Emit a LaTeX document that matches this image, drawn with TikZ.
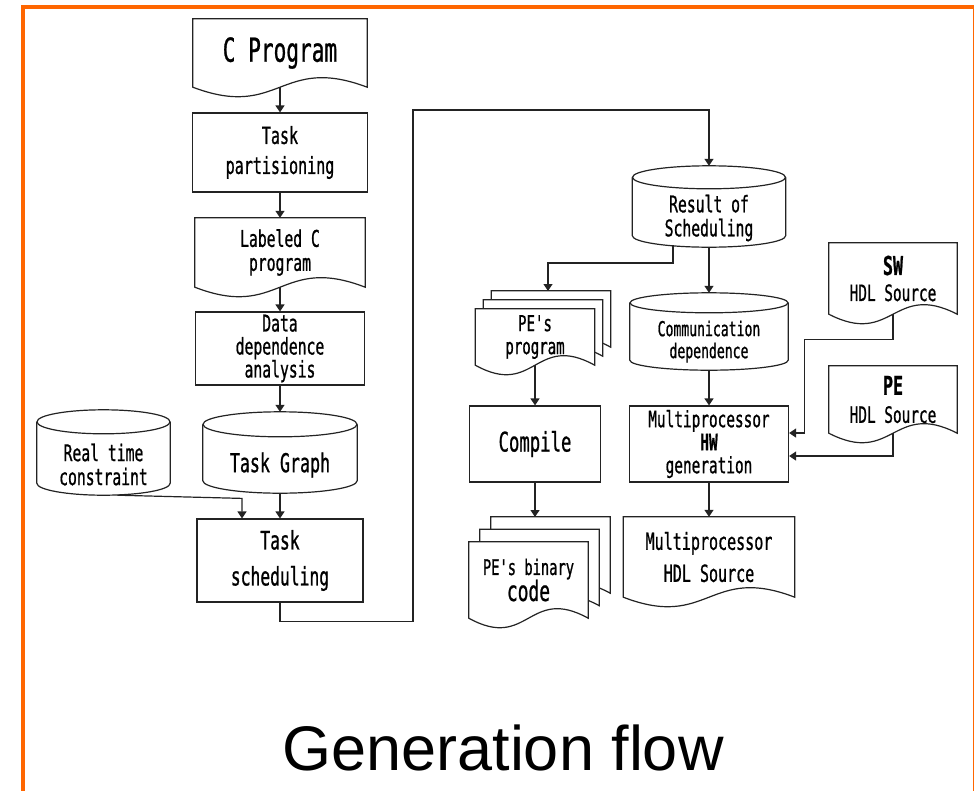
\documentclass[tikz,border=0pt]{standalone}
\usepackage{fontspec}
\newfontfamily\gothic[FakeStretch=0.64,FakeBold=0.8]{DejaVu Sans Mono}
\newfontfamily\arial{Liberation Sans}
\usetikzlibrary{arrows.meta,calc,backgrounds}
\definecolor{frm}{RGB}{255,102,0}
\definecolor{ink}{RGB}{35,35,35}
\tikzset{
  box/.style={draw=ink,line width=1.2pt,fill=white,inner sep=0pt,align=center},
  doc/.style={inner sep=0pt,align=center},
  cyl/.style={inner sep=0pt,align=center},
  ln/.style={draw=ink,line width=1.2pt},
  arr/.style={draw=ink,line width=1.2pt,-{Triangle[length=7pt,width=9pt]}},
  edge/.style={draw=frm,line width=4pt}
}
\newcommand{\gfont}[2]{\gothic\fontsize{#1}{#2}\selectfont}
% document outline with wavy foot, optional shift for stacked pages
\newcommand{\docout}[2][0pt,0pt]{%
  \draw[ln,fill=white] ([shift={(#1)}]#2.north west) -- ([shift={(#1)}]#2.north east)
    -- ([shift={(#1)}]#2.south east)
    .. controls ([shift={(#1)},yshift=33pt]#2.south) and ([shift={(#1)},yshift=-33pt]#2.south)
    .. ([shift={(#1)}]#2.south west) -- cycle;}
% drum outline, node is the part under the lid
\newcommand{\cylout}[3]{%
  \draw[ln,fill=white] ([yshift=#3]#1.north west) -- ([yshift=#3]#1.south west)
    .. controls ([yshift=0.45*#3]#1.south west) and ($(#1.south)!0.55!(#1.south west)$) .. (#1.south)
    .. controls ($(#1.south)!0.55!(#1.south east)$) and ([yshift=0.45*#3]#1.south east) .. ([yshift=#3]#1.south east)
    -- ([yshift=#3]#1.north east);
  \draw[ln,fill=white] ([yshift=#3]#1.north) ellipse [x radius=#2, y radius=#3];}

\begin{document}
\begin{tikzpicture}[x=1pt,y=-1pt]
\useasboundingbox (0,0) rectangle (974,790);
\clip (0,0) rectangle (974,790);
\draw[edge] (22.5,800) |- (974.5,7) -- (974.5,800);

% left column
\node[doc,minimum width=174pt,minimum height=68pt,font=\gfont{33}{36}] (cprog) at (280,53) {C Program};
\node[box,minimum width=175pt,minimum height=79pt,font=\gfont{23.5}{30}] (part) at (280,152.5) {Task\\partisioning};
\node[doc,minimum width=170pt,minimum height=69pt,font=\gfont{23}{24}] (lab) at (280,252.5) {Labeled C\\program};
\node[box,minimum width=169pt,minimum height=73pt,font=\gfont{23}{23}] (ddep) at (280,348.5) {Data\\dependence\\analysis};
\node[cyl,minimum width=154pt,minimum height=56pt,font=\gfont{26}{28}] (tg) at (280,465) {Task Graph};
\node[cyl,minimum width=133pt,minimum height=61pt,font=\gfont{23}{24}] (rtc) at (103.5,464.5) {Real time\\constraint};
\node[box,minimum width=166pt,minimum height=83pt,font=\gfont{25.5}{36}] (tsch) at (280,560.5) {Task\\scheduling};

% right part
\node[cyl,minimum width=153pt,minimum height=58pt,font=\gfont{23}{24}] (res) at (709,218) {Result of\\Scheduling};
\node[doc,minimum width=119pt,minimum height=56pt,font=\gfont{22}{23}] (peprog) at (535,337) {PE's\\program};
\node[cyl,minimum width=158pt,minimum height=57pt,font=\gfont{20.5}{22}] (comm) at (709,341.5) {Communication\\dependence};
\node[box,minimum width=131pt,minimum height=76pt,font=\gfont{27}{28}] (comp) at (535,444) {Compile};
\node[box,minimum width=159pt,minimum height=76pt,font=\gfont{22.5}{23}] (mhw) at (709,444) {Multiprocessor\\\textbf{HW}\\generation};
\node[doc,minimum width=119pt,minimum height=76pt,font=\gfont{21.5}{26}] (bin) at (528.5,580) {PE's binary\\{\fontsize{28}{26}\selectfont code}};
\node[doc,minimum width=171pt,minimum height=80pt,font=\gfont{23.5}{32}] (mhdl) at (709,557) {Multiprocessor\\HDL Source};
\node[doc,minimum width=128pt,minimum height=71pt,font=\gfont{22.5}{26}] (sw) at (893,278.5) {{\bfseries\fontsize{26}{26}\selectfont SW}\\HDL Source};
\node[doc,minimum width=128pt,minimum height=67pt,font=\gfont{22.5}{28}] (pehdl) at (893,399.5) {{\bfseries\fontsize{26}{26}\selectfont PE}\\HDL Source};

\node[anchor=base,font=\arial\fontsize{63}{70}\selectfont] (title) at (503,770) {Generation flow};

\coordinate (bend) at (413,110);
\coordinate (pptop) at (548,291);
\coordinate (bintop) at (535,517);

\begin{scope}[on background layer]
\docout{cprog} \docout{lab} \docout{mhdl} \docout{sw} \docout{pehdl}
\docout[16pt,18pt]{peprog} \docout[8pt,9pt]{peprog} \docout{peprog}
\docout[22pt,25pt]{bin} \docout[11pt,12.5pt]{bin} \docout{bin}
\cylout{tg}{77pt}{12.5pt} \cylout{rtc}{66.5pt}{12pt}
\cylout{res}{76.5pt}{11.5pt} \cylout{comm}{79pt}{10pt}
\end{scope}

\draw[arr] (cprog) -- (part);
\draw[arr] (part) -- (lab);
\draw[arr] (lab) -- (ddep);
\draw[arr] (ddep.south) -- ([yshift=25pt]tg.north);
\draw[arr] (tg) -- (tsch);
\draw[arr] ([xshift=14pt]rtc.south) -- ([xshift=-38pt,yshift=20pt]tsch.north) -- ([xshift=-38pt]tsch.north);
\draw[arr] (tsch.south) -- ++(0,19) -| (bend) -| ([yshift=23pt]res.north);
\draw[arr] (res) -- ([yshift=20pt]comm.north);
\draw[arr] ([xshift=-36pt,yshift=2pt]res.south) |- ([yshift=28pt]pptop) -- (pptop);
\draw[arr] (peprog) -- (comp);
\draw[arr] (comp) -- (bintop);
\draw[arr] (comm) -- (mhw);
\draw[arr] (mhw) -- (mhdl);
\draw[arr] (sw.south) -- ++(0,25) -| ([xshift=15pt,yshift=11pt]mhw.east) -- ([yshift=11pt]mhw.east);
\draw[arr] (pehdl.south) |- ([yshift=-12pt]mhw.east);
\end{tikzpicture}
\end{document}
